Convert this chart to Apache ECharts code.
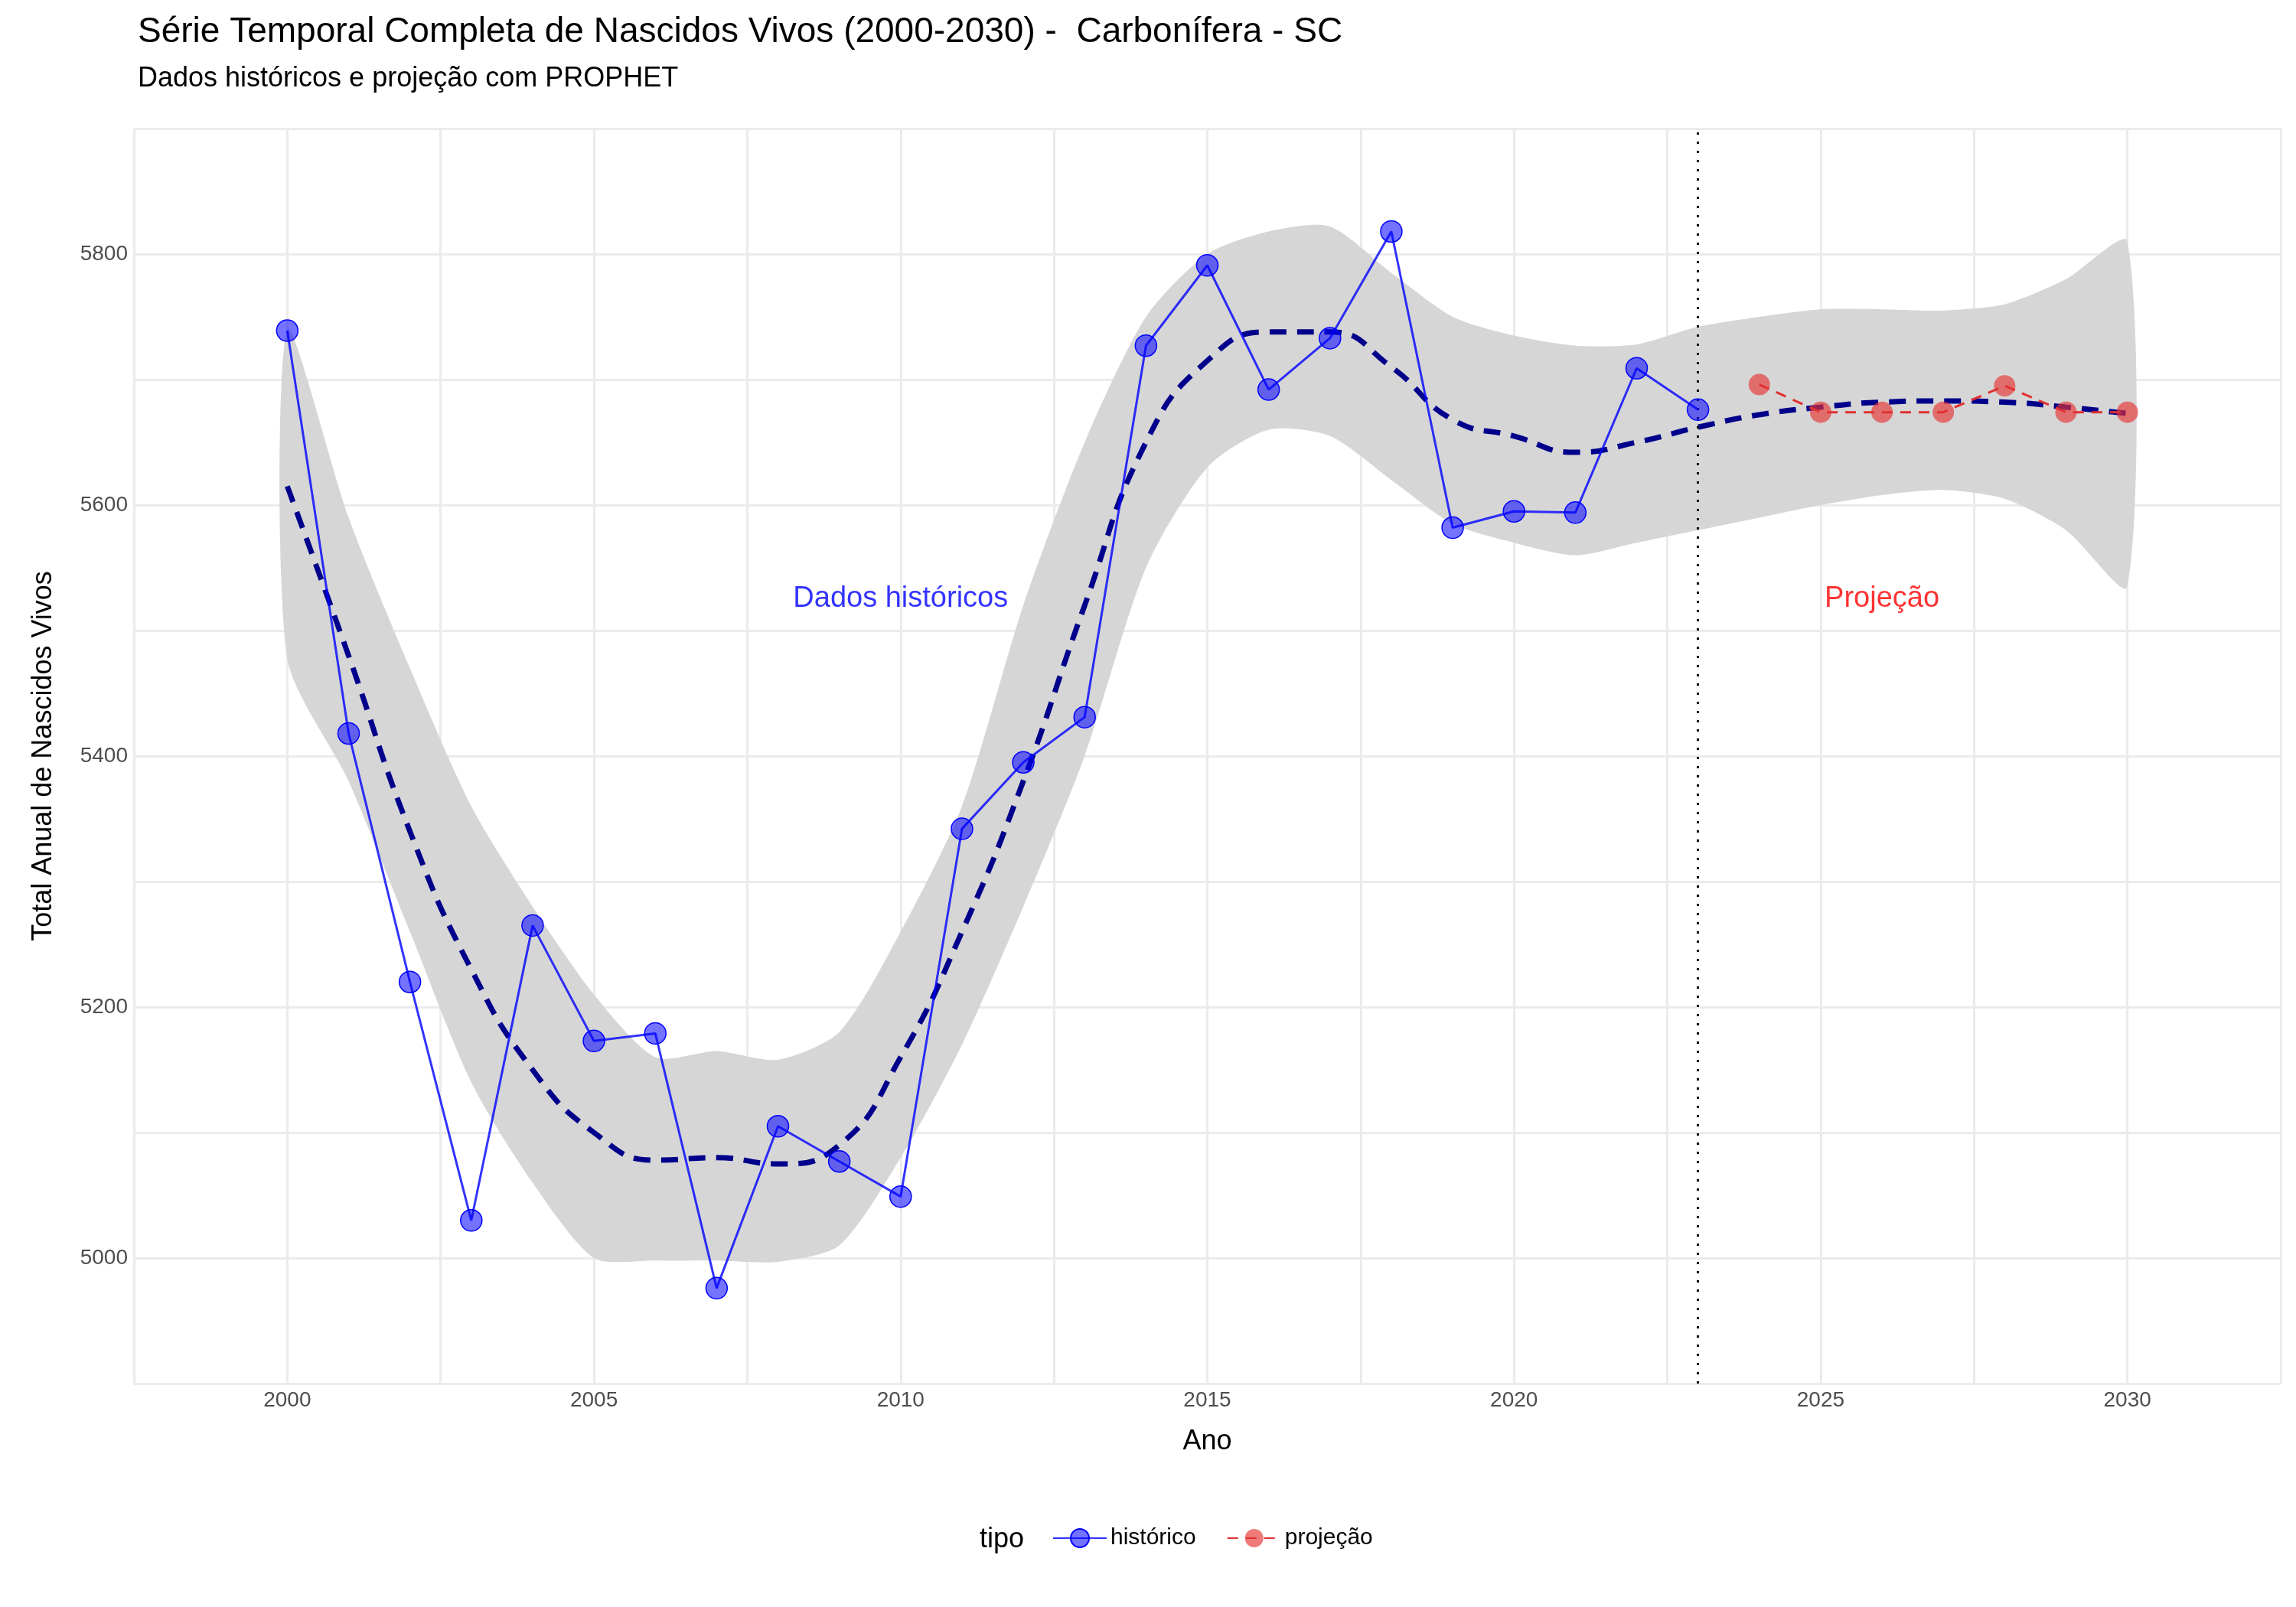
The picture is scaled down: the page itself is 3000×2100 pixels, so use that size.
<!DOCTYPE html>
<html><head><meta charset="utf-8">
<script src="https://cdn.jsdelivr.net/npm/echarts@6/dist/echarts.min.js"></script>
<style>html,body{margin:0;background:#fff}#c{width:3000px;height:2100px}</style>
</head><body><div id="c"></div>
<script>
const histYears = [2000,2001,2002,2003,2004,2005,2006,2007,2008,2009,2010,2011,2012,2013,2014,2015,2016,2017,2018,2019,2020,2021,2022,2023];
const histValues = [5739,5418,5220,5030,5265,5173,5179,4976,5105,5077,5049,5342,5395,5431,5727,5791,5692,5733,5818,5582,5595,5594,5709,5676];
const projYears = [2024,2025,2026,2027,2028,2029,2030];
const projValues = [5696,5674,5674,5674,5695,5674,5674];
const trendYears = [2000,2001,2002,2003,2004,2005,2006,2007,2008,2009,2010,2011,2012,2013,2014,2015,2016,2017,2018,2019,2020,2021,2022,2023,2024,2025,2026,2027,2028,2029,2030];
const trendValues = [5615,5480,5340,5230,5150,5100,5078,5080,5075,5090,5160,5260,5380,5520,5650,5715,5738,5738,5710,5668,5655,5642,5650,5662,5672,5678,5682,5683,5682,5678,5673];
const upperValues = [5740,5590,5470,5360,5280,5210,5160,5165,5158,5180,5260,5360,5520,5650,5750,5800,5818,5822,5785,5750,5735,5727,5728,5742,5750,5756,5756,5755,5760,5780,5810];
const lowerValues = [5478,5380,5260,5140,5060,5000,4998,4998,4997,5010,5080,5170,5280,5400,5550,5630,5660,5655,5620,5585,5570,5560,5570,5580,5590,5600,5608,5612,5605,5580,5535];

const zip = (xs, ys) => xs.map((x, i) => [x, ys[i]]);
const font = 'Liberation Sans, Arial, sans-serif';
const chart = echarts.init(document.getElementById('c'));
chart.setOption({
  animation: false,
  textStyle: { fontFamily: font },
  title: {
    text: 'Série Temporal Completa de Nascidos Vivos (2000-2030) -  Carbonífera - SC',
    subtext: 'Dados históricos e projeção com PROPHET',
    left: 175, top: 14,
    textStyle: { fontSize: 46, fontWeight: 'normal', color: '#000' },
    subtextStyle: { fontSize: 36, color: '#000' }, itemGap: 20
  },
  legend: {
    bottom: 70, left: 1370, itemWidth: 70, itemHeight: 30, itemGap: 40,
    textStyle: { fontSize: 30, color: '#000' },
    data: ['histórico', 'projeção']
  },
  graphic: [{ type: 'text', left: 1280, bottom: 70, style: { text: 'tipo', fontSize: 36, fill: '#000', fontFamily: font } }],
  grid: { left: 175, right: 20, top: 168, bottom: 292 },
  xAxis: {
    type: 'value', min: 1997.5, max: 2032.5, interval: 2.5,
    name: 'Ano', nameLocation: 'middle', nameGap: 58, nameTextStyle: { fontSize: 36, color: '#000' },
    axisLine: { show: false }, axisTick: { show: false },
    axisLabel: { fontSize: 28, color: '#4d4d4d', formatter: v => v % 5 === 0 ? String(v) : '' },
    splitLine: { lineStyle: { color: '#ebebeb', width: 3 } }
  },
  yAxis: {
    type: 'value', min: 4900, max: 5900, interval: 100,
    name: 'Total Anual de Nascidos Vivos', nameLocation: 'middle', nameGap: 100, nameTextStyle: { fontSize: 36, color: '#000' },
    axisLine: { show: false }, axisTick: { show: false },
    axisLabel: { fontSize: 28, color: '#4d4d4d', formatter: v => v % 200 === 0 ? String(v) : '' },
    splitLine: { lineStyle: { color: '#ebebeb', width: 3 } }
  },
  series: [
    { name: 'band', type: 'custom', silent: true, z: 1,
      data: trendYears.map((y, i) => [y, lowerValues[i], upperValues[i]]),
      renderItem: (params, api) => {
        if (params.dataIndex !== 0) return null;
        const top = trendYears.map((y, i) => api.coord([y, upperValues[i]]));
        const bot = trendYears.map((y, i) => api.coord([y, lowerValues[i]])).reverse();
        return { type: 'polygon', shape: { points: top.concat(bot), smooth: 0.25 }, style: { fill: '#d6d6d6' } };
      } },
    { name: 'trend', type: 'line', data: zip(trendYears, trendValues), symbol: 'none', smooth: true, lineStyle: { color: '#00008b', width: 7, type: [22, 14] }, z: 4,
      markLine: { silent: true, symbol: 'none', label: { show: false }, lineStyle: { color: '#000', type: [3, 9], width: 3 }, data: [{ xAxis: 2023 }] } },
    { name: 'histórico', type: 'line', data: zip(histYears, histValues), color: '#0000ff', symbol: 'circle', symbolSize: 28,
      lineStyle: { color: '#0000ff', width: 3, opacity: 0.8 }, itemStyle: { color: 'rgba(0,0,255,0.55)', borderColor: '#0000ff', borderWidth: 1.5 }, z: 5 },
    { name: 'projeção', type: 'line', data: zip(projYears, projValues), color: '#ff3333', symbol: 'circle', symbolSize: 28,
      lineStyle: { color: '#e03030', width: 3, type: [14, 10] }, itemStyle: { color: 'rgba(230,50,50,0.65)' }, z: 5 },
    { name: 'labels', type: 'scatter', symbolSize: 0, silent: true,
      data: [
        { value: [2010, 5525], label: { show: true, formatter: 'Dados históricos', color: '#0000ff', fontSize: 38 } },
        { value: [2026, 5525], label: { show: true, formatter: 'Projeção', color: '#ff0000', fontSize: 38 } }
      ],
      label: { position: 'inside' } }
  ]
});
</script></body></html>
